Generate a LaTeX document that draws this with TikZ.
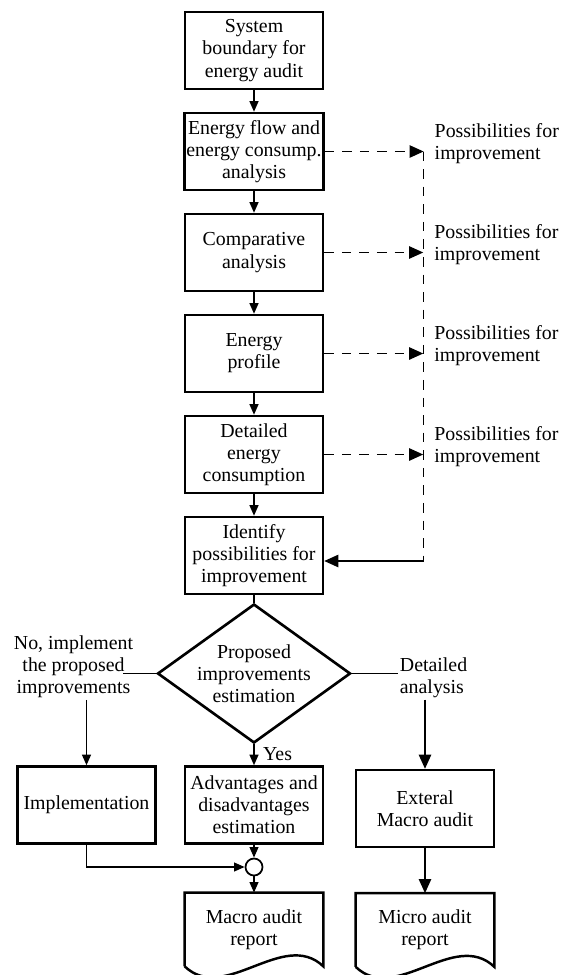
\documentclass[tikz,border=0pt]{standalone}
\usepackage{fontspec}
\setmainfont{Liberation Serif}
\usepackage{tikz}
\usetikzlibrary{positioning, arrows.meta, shapes.geometric}

\begin{document}
\begin{tikzpicture}[node distance=2.02cm, every node/.style={font=\fontsize{11.3}{12.6}\selectfont}]
  \tikzstyle{process} = [rectangle, minimum width=2.76cm, minimum height=1.54cm, text centered, align=center, draw=black, line width=1.4pt, inner sep=1pt]
  \tikzstyle{decision} = [diamond, shape aspect=1.39, minimum width=3.86cm, minimum height=2.78cm, align=center, draw=black, line width=1.5pt, inner sep=-8pt]
  \tikzstyle{report} = [rectangle, minimum width=2.76cm, minimum height=1.46cm, align=center, inner sep=1pt]
  \tikzstyle{junction} = [circle, draw=black, line width=1pt, minimum size=0.34cm, inner sep=0pt]
  \tikzstyle{note} = [align=center, inner sep=1pt]
  \tikzstyle{possnote} = [align=left, inner sep=1pt]
  \tikzstyle{line} = [line width=0.9pt]
  \tikzstyle{outline} = [line width=1.4pt]
  \tikzstyle{arrow} = [line width=0.9pt, -{Triangle[length=6pt, width=5pt]}]
  \tikzstyle{bigarrow} = [line width=0.9pt, -{Triangle[length=8pt, width=7pt]}]
  \tikzstyle{dasharrow} = [line width=0.9pt, dash pattern=on 5.5pt off 4.5pt, -{Triangle[length=8pt, width=7pt]}]

  \useasboundingbox (0,0) rectangle (11.24,-19.5);

  % main column
  \node (bound) [process] at (5.08,-1.01) {System\\boundary for\\energy audit};
  \node (flow) [process, below of=bound] {Energy flow and\\energy consump.\\analysis};
  \node (comp) [process, below of=flow] {Comparative\\analysis};
  \node (prof) [process, below of=comp] {Energy\\profile};
  \node (detail) [process, below of=prof] {Detailed\\energy\\consumption};
  \node (ident) [process, below of=detail] {Identify\\possibilities for\\improvement};
  \node (dec) [decision, node distance=2.36cm, below of=ident] {Proposed\\improvements\\estimation};
  \node (adv) [process, node distance=2.63cm, below of=dec] {Advantages and\\disadvantages\\estimation};
  \node (impl) [process, node distance=3.35cm, left of=adv] {Implementation};
  \node (ext) [process, node distance=3.42cm, right of=adv, yshift=-0.07cm] {Exteral\\Macro audit};
  \node (junc) [junction, node distance=1.24cm, below of=adv] {};
  \node (macro) [report, node distance=1.25cm, below of=junc] {Macro audit\\report};
  \node (micro) [report, node distance=2.43cm, below of=ext] {Micro audit\\report};

  % side notes
  \coordinate [right=1.98cm of flow.east] (r1);
  \coordinate [right=1.98cm of comp.east] (r2);
  \coordinate [right=1.98cm of prof.east] (r3);
  \coordinate [right=1.98cm of detail.east] (r4);
  \coordinate [yshift=-0.11cm] (back) at (r1 |- ident.east);
  \node (poss1) [possnote, right=0.18cm of r1, yshift=0.16cm] {Possibilities for\\improvement};
  \node (poss2) [possnote, right=0.18cm of r2, yshift=0.16cm] {Possibilities for\\improvement};
  \node (poss3) [possnote, right=0.18cm of r3, yshift=0.16cm] {Possibilities for\\improvement};
  \node (poss4) [possnote, right=0.18cm of r4, yshift=0.16cm] {Possibilities for\\improvement};
  \node (nolabel) [note, left=0.42cm of dec.west, yshift=0.14cm] {No, implement\\the proposed\\improvements};
  \coordinate [left=0.66cm of dec.west] (noend);
  \node (detlabel) [possnote, right=0.92cm of dec.east, yshift=-0.08cm] {Detailed\\analysis};
  \node (yes) [inner sep=1pt, right=0.14cm of dec.south, yshift=-0.2cm] {Yes};

  \draw [arrow] (bound) -- (flow);
  \draw [arrow] (flow) -- (comp);
  \draw [arrow] (comp) -- (prof);
  \draw [arrow] (prof) -- (detail);
  \draw [arrow] (detail) -- (ident);
  \draw [line] (ident) -- (dec);

  \draw [dasharrow] (flow.east) -- (r1);
  \draw [dasharrow] (comp.east) -- (r2);
  \draw [dasharrow] (prof.east) -- (r3);
  \draw [dasharrow] (detail.east) -- (r4);
  \draw [line, dash pattern=on 5.5pt off 4.5pt] (r1) -- (back);
  \draw [bigarrow] (back) -- (back -| ident.east);

  \draw [line] (dec.west) -- (noend);
  \draw [arrow] (nolabel.south -| impl.north) -- (impl.north);
  \draw [line] (dec.east) -- (dec.east -| detlabel.west);
  \draw [bigarrow] (detlabel.south -| ext.north) -- (ext.north);
  \draw [arrow] (dec.south) -- (adv.north);

  \draw [arrow] (adv.south) -- (junc.north);
  \draw [arrow] (impl.south) |- (junc.west);
  \draw [arrow] (junc.south) -- (macro.north);
  \draw [bigarrow] (ext.south) -- (micro.north);

  % report outlines
  \draw [outline] (macro.south west) -- (macro.north west) -- (macro.north east) -- (macro.south east)
    .. controls +(-0.8,0.76) and +(0.8,-0.76) .. (macro.south west);
  \draw [outline] (micro.south west) -- (micro.north west) -- (micro.north east) -- (micro.south east)
    .. controls +(-0.8,0.76) and +(0.8,-0.76) .. (micro.south west);
\end{tikzpicture}
\end{document}
